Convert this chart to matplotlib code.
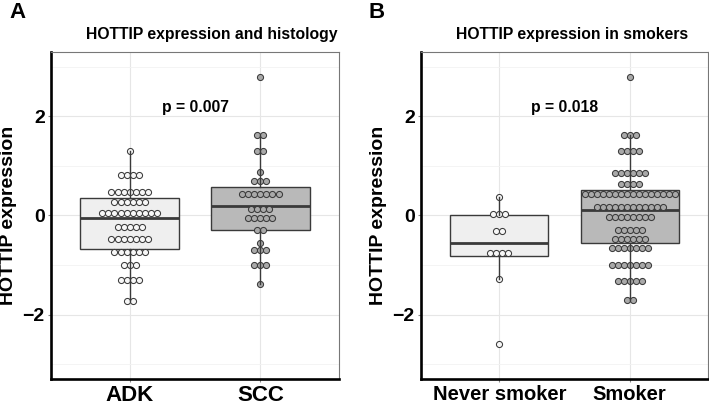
"""Box + dot plots of HOTTIP expression by histology and smoking status."""

import numpy as np
import matplotlib
matplotlib.use("Agg")
import matplotlib.pyplot as plt

plt.rcParams["font.family"] = ["Liberation Sans", "DejaVu Sans"]
plt.rcParams["font.weight"] = "bold"

# --- data (dot rows: binned value, number of dots) -------------------------
adk_levels = [1.31, 0.82, 0.48, 0.28, 0.05, -0.24, -0.48, -0.74, -0.99, -1.31, -1.72]
adk_counts = [1, 4, 7, 6, 10, 5, 7, 6, 3, 4, 2]
scc_levels = [2.80, 1.62, 1.31, 0.87, 0.70, 0.44, 0.13, -0.05, -0.29, -0.56, -0.69, -0.99, -1.39]
scc_counts = [1, 2, 2, 1, 3, 7, 4, 5, 2, 1, 3, 3, 1]
never_levels = [0.37, 0.03, -0.32, -0.76, -1.29, -2.60]
never_counts = [1, 3, 2, 4, 1, 1]
smoker_levels = [2.80, 1.63, 1.30, 0.85, 0.64, 0.44, 0.17, -0.04, -0.29, -0.47, -0.66, -0.99, -1.32, -1.71]
smoker_counts = [1, 3, 4, 6, 4, 16, 12, 8, 5, 6, 7, 7, 5, 2]

# box statistics: (q1, median, q3, whisker low, whisker high)
adk_box = (-0.68, -0.06, 0.35, -1.72, 1.31)
scc_box = (-0.29, 0.20, 0.57, -1.39, 1.62)
never_box = (-0.81, -0.56, 0.01, -1.29, 0.37)
smoker_box = (-0.56, 0.11, 0.52, -1.71, 1.63)

panel_a = dict(label="A", title="HOTTIP expression and histology", pval="p = 0.007",
               cats=["ADK", "SCC"], levels=[adk_levels, scc_levels],
               counts=[adk_counts, scc_counts], boxes=[adk_box, scc_box])
panel_b = dict(label="B", title="HOTTIP expression in smokers", pval="p = 0.018",
               cats=["Never smoker", "Smoker"], levels=[never_levels, smoker_levels],
               counts=[never_counts, smoker_counts], boxes=[never_box, smoker_box])

FILLS = ["#EFEFEF", "#B9B9B9"]
DOTS = ["#F7F7F7", "#A9A9A9"]
EDGE = "#3A3A3A"
DOT_STEP = 0.046  # horizontal spacing of stacked dots (x units)


def draw_panel(fig, rect, p, title_x, label_x, xfs):
    ax = fig.add_axes(rect)
    stats = []
    for q1, med, q3, lo, hi in p["boxes"]:
        stats.append(dict(q1=q1, med=med, q3=q3, whislo=lo, whishi=hi, fliers=[]))
    art = ax.bxp(stats, positions=[1, 2], widths=0.75, patch_artist=True,
                 showfliers=False, showcaps=False,
                 boxprops=dict(edgecolor=EDGE, linewidth=1.0),
                 medianprops=dict(color=EDGE, linewidth=2.0),
                 whiskerprops=dict(color=EDGE, linewidth=1.0))
    for patch, fc in zip(art["boxes"], FILLS):
        patch.set_facecolor(fc)
        patch.set_zorder(2)
    for m in art["medians"]:
        m.set_zorder(2.5)
    for w in art["whiskers"]:
        w.set_zorder(4)

    for i, (lev, cnt) in enumerate(zip(p["levels"], p["counts"])):
        xs, ys = [], []
        for y, n in zip(lev, cnt):
            off = (np.arange(n) - (n - 1) / 2) * DOT_STEP
            xs.extend(i + 1 + off)
            ys.extend([y] * n)
        ax.scatter(xs, ys, s=4.4 ** 2, facecolor=DOTS[i], edgecolor=EDGE,
                   linewidth=0.75, zorder=3)

    ax.set_xlim(0.4, 2.6)
    ax.set_ylim(-3.3, 3.3)
    ax.set_xticks([1, 2])
    ax.set_xticklabels(p["cats"], fontsize=xfs, fontweight="bold")
    ax.set_yticks([-2, 0, 2])
    ax.set_yticklabels(["\u22122", "0", "2"], fontsize=14, fontweight="bold")
    ax.set_yticks([-3, -1, 1, 3], minor=True)
    ax.grid(True, which="major", color="#E6E6E6", linewidth=0.8, zorder=0)
    ax.grid(True, which="minor", axis="y", color="#F2F2F2", linewidth=0.6, zorder=0)
    ax.set_axisbelow(True)
    ax.tick_params(axis="both", which="major", length=2.5, color="#888888", pad=2)
    ax.tick_params(axis="y", which="minor", length=0)
    ax.tick_params(axis="x", pad=1.5)
    for s in ("left", "bottom"):
        ax.spines[s].set_linewidth(1.9)
        ax.spines[s].set_color("black")
    for s in ("top", "right"):
        ax.spines[s].set_linewidth(0.8)
        ax.spines[s].set_color("#777777")
    ax.set_ylabel("HOTTIP expression", fontsize=14, fontweight="bold", labelpad=4)
    ax.text(1.5, 2.17, p["pval"], ha="center", va="center", fontsize=11.3,
            fontweight="bold")
    fig.text(title_x, 1 - 35 / 405, p["title"], ha="center", va="center",
             fontsize=11.3, fontweight="bold")
    fig.text(label_x, 1 - 12 / 405, p["label"], ha="left", va="center",
             fontsize=16, fontweight="bold")
    return ax


fig = plt.figure(figsize=(7.09, 4.05), dpi=100)
W, H = 709, 405
draw_panel(fig, [51 / W, 26 / H, 288 / W, 327 / H], panel_a, 212 / W, 9 / W, 16)
draw_panel(fig, [421 / W, 26 / H, 287 / W, 327 / H], panel_b, 572 / W, 369 / W, 14.5)
fig.savefig("out.png", dpi=100)
